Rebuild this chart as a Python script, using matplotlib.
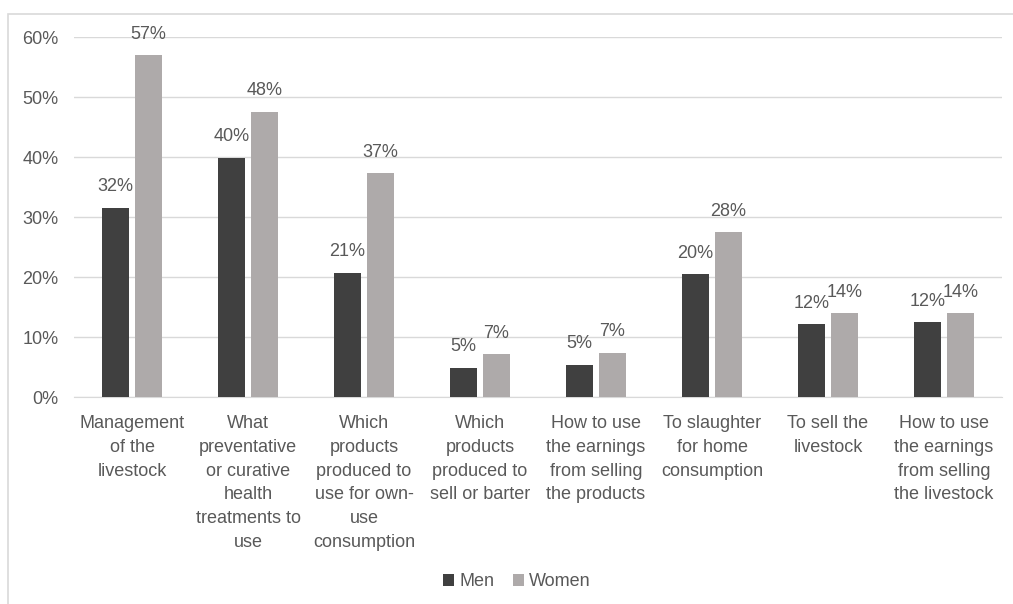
"""
Livestock decision-making by gender: grouped bar chart
"""

import matplotlib
matplotlib.use('Agg')  # no display
import matplotlib.pyplot as plt
from matplotlib.patches import Rectangle
from matplotlib.ticker import FuncFormatter
import numpy as np

# Data
categories = [
    "Management\nof the\nlivestock",
    "What\npreventative\nor curative\nhealth\ntreatments to\nuse",
    "Which\nproducts\nproduced to\nuse for own-\nuse\nconsumption",
    "Which\nproducts\nproduced to\nsell or barter",
    "How to use\nthe earnings\nfrom selling\nthe products",
    "To slaughter\nfor home\nconsumption",
    "To sell the\nlivestock",
    "How to use\nthe earnings\nfrom selling\nthe livestock",
]
men = [31.6, 39.9, 20.7, 4.9, 5.4, 20.5, 12.1, 12.5]
women = [57.0, 47.6, 37.3, 7.1, 7.4, 27.5, 14.0, 14.0]
series_names = ["Men", "Women"]
yticks = [0, 10, 20, 30, 40, 50, 60]

MEN_COLOR = "#404040"
WOMEN_COLOR = "#AEAAAA"
TEXT_COLOR = "#595959"
GRID_COLOR = "#D9D9D9"

plt.rcParams['font.family'] = ['Liberation Sans', 'DejaVu Sans']

W, H = 1013, 604
fig = plt.figure(figsize=(W / 100, H / 100), dpi=100)
ax = fig.add_axes([74 / W, 1 - 397 / H, 928 / W, (397 - 37.3) / H])

# outer chart frame
fig.patches.append(Rectangle((8 / W, -0.1), 1.2, 1.1 - 14 / H, transform=fig.transFigure,
                             fill=False, edgecolor=GRID_COLOR, linewidth=1.2))

x = np.arange(len(categories))
bw = 0.233
off = 0.142
b1 = ax.bar(x - off, men, bw, color=MEN_COLOR, label=series_names[0], zorder=3)
b2 = ax.bar(x + off, women, bw, color=WOMEN_COLOR, label=series_names[1], zorder=3)

for bars, vals in ((b1, men), (b2, women)):
    for rect, v in zip(bars, vals):
        ax.annotate(f"{round(v):.0f}%", (rect.get_x() + rect.get_width() / 2, v),
                    xytext=(0, 9), textcoords="offset points",
                    ha="center", va="bottom", fontsize=13, color=TEXT_COLOR)

ax.set_xlim(-0.5, len(categories) - 0.5)
ax.set_ylim(0, 60)
ax.set_yticks(yticks)
ax.yaxis.set_major_formatter(FuncFormatter(lambda v, p: f"{v:.0f}%"))
ax.set_xticks(x)
ax.set_xticklabels(categories, fontsize=13, color=TEXT_COLOR, linespacing=1.52)
ax.tick_params(axis='y', labelsize=13, labelcolor=TEXT_COLOR, length=0, pad=11)
ax.tick_params(axis='x', length=0, pad=13)
ax.grid(axis='y', color=GRID_COLOR, linewidth=1, zorder=0)
for side in ("top", "right", "left"):
    ax.spines[side].set_visible(False)
ax.spines["bottom"].set_color(GRID_COLOR)

fig.legend(loc="center", bbox_to_anchor=(517 / W, 1 - 582 / H), ncol=2, frameon=False,
           fontsize=13, labelcolor=TEXT_COLOR, handlelength=0.6, handleheight=0.6,
           handletextpad=0.3, columnspacing=1.0)

fig.savefig("out.png", dpi=100)
plt.close(fig)
